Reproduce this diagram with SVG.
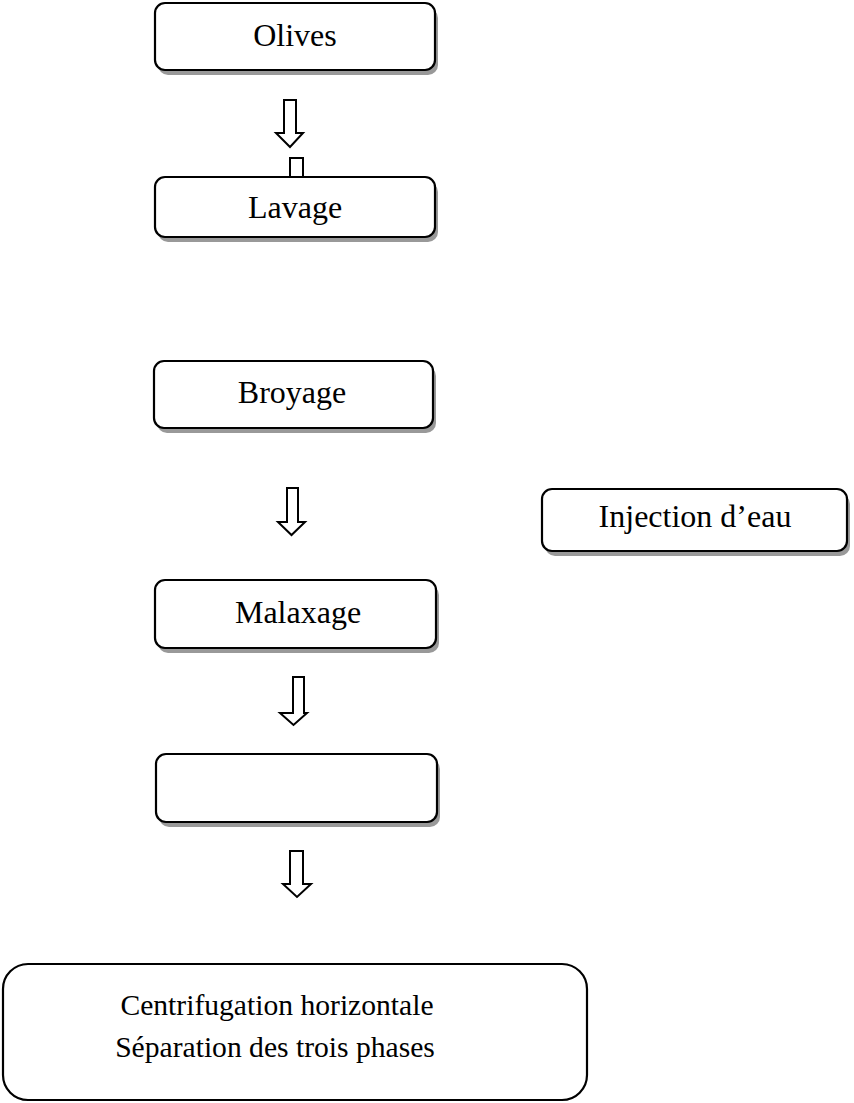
<svg xmlns="http://www.w3.org/2000/svg" width="854" height="1103" viewBox="0 0 854 1103">
  <style>
    .box { fill: #ffffff; stroke: #000000; stroke-width: 2.2; }
    .shadow { fill: #999999; stroke: none; }
    .label { font-family: "Liberation Serif", "Times New Roman", serif; font-size: 32px; fill: #000000; text-anchor: middle; }
    .label-big { font-family: "Liberation Serif", "Times New Roman", serif; font-size: 29.6px; fill: #000000; text-anchor: middle; }
    .arrow { fill: #ffffff; stroke: #000000; stroke-width: 2; stroke-linejoin: miter; }
  </style>
  <rect width="854" height="1103" fill="#ffffff"/>

  <!-- block arrows between the steps -->
  <g id="connectors">
    <polygon class="arrow" points="284,100 296,100 296,133 303,133 290,147 276,133 284,133"/>
    <rect class="arrow" x="290" y="158" width="13" height="22"/>
    <polygon class="arrow" points="287,488 298,488 298,522 305,522 291.5,535 278,522 287,522"/>
    <polygon class="arrow" points="293,677 304,677 304,713 307,713 293.5,725 280,713 293,713"/>
    <polygon class="arrow" points="290,851 303,851 303,884 311,884 297,897 283,884 290,884"/>
  </g>

  <g id="olives">
    <rect class="shadow" x="158" y="8" width="280" height="67" rx="10"/>
    <rect class="box" x="155" y="3" width="280" height="67" rx="10"/>
    <text class="label" x="295" y="46">Olives</text>
  </g>

  <g id="lavage">
    <rect class="shadow" x="158" y="182" width="280" height="60" rx="10"/>
    <rect class="box" x="155" y="177" width="280" height="60" rx="10"/>
    <text class="label" x="295" y="218">Lavage</text>
  </g>

  <g id="broyage">
    <rect class="shadow" x="157" y="366" width="279" height="67" rx="10"/>
    <rect class="box" x="154" y="361" width="279" height="67" rx="10"/>
    <text class="label" x="292" y="403">Broyage</text>
  </g>

  <g id="injection">
    <rect class="shadow" x="545" y="494" width="305" height="62" rx="10"/>
    <rect class="box" x="542" y="489" width="305" height="62" rx="10"/>
    <text class="label" x="695" y="527">Injection d’eau</text>
  </g>

  <g id="malaxage">
    <rect class="shadow" x="158" y="585" width="281" height="68" rx="10"/>
    <rect class="box" x="155" y="580" width="281" height="68" rx="10"/>
    <text class="label" x="298" y="623">Malaxage</text>
  </g>

  <g id="empty-step">
    <rect class="shadow" x="159" y="759" width="281" height="68" rx="10"/>
    <rect class="box" x="156" y="754" width="281" height="68" rx="10"/>
  </g>

  <g id="centrifugation">
    <rect class="box" x="3" y="964" width="584" height="136" rx="25"/>
    <text class="label-big" x="277" y="1015">Centrifugation horizontale</text>
    <text class="label-big" x="275" y="1057">Séparation des trois phases</text>
  </g>
</svg>
